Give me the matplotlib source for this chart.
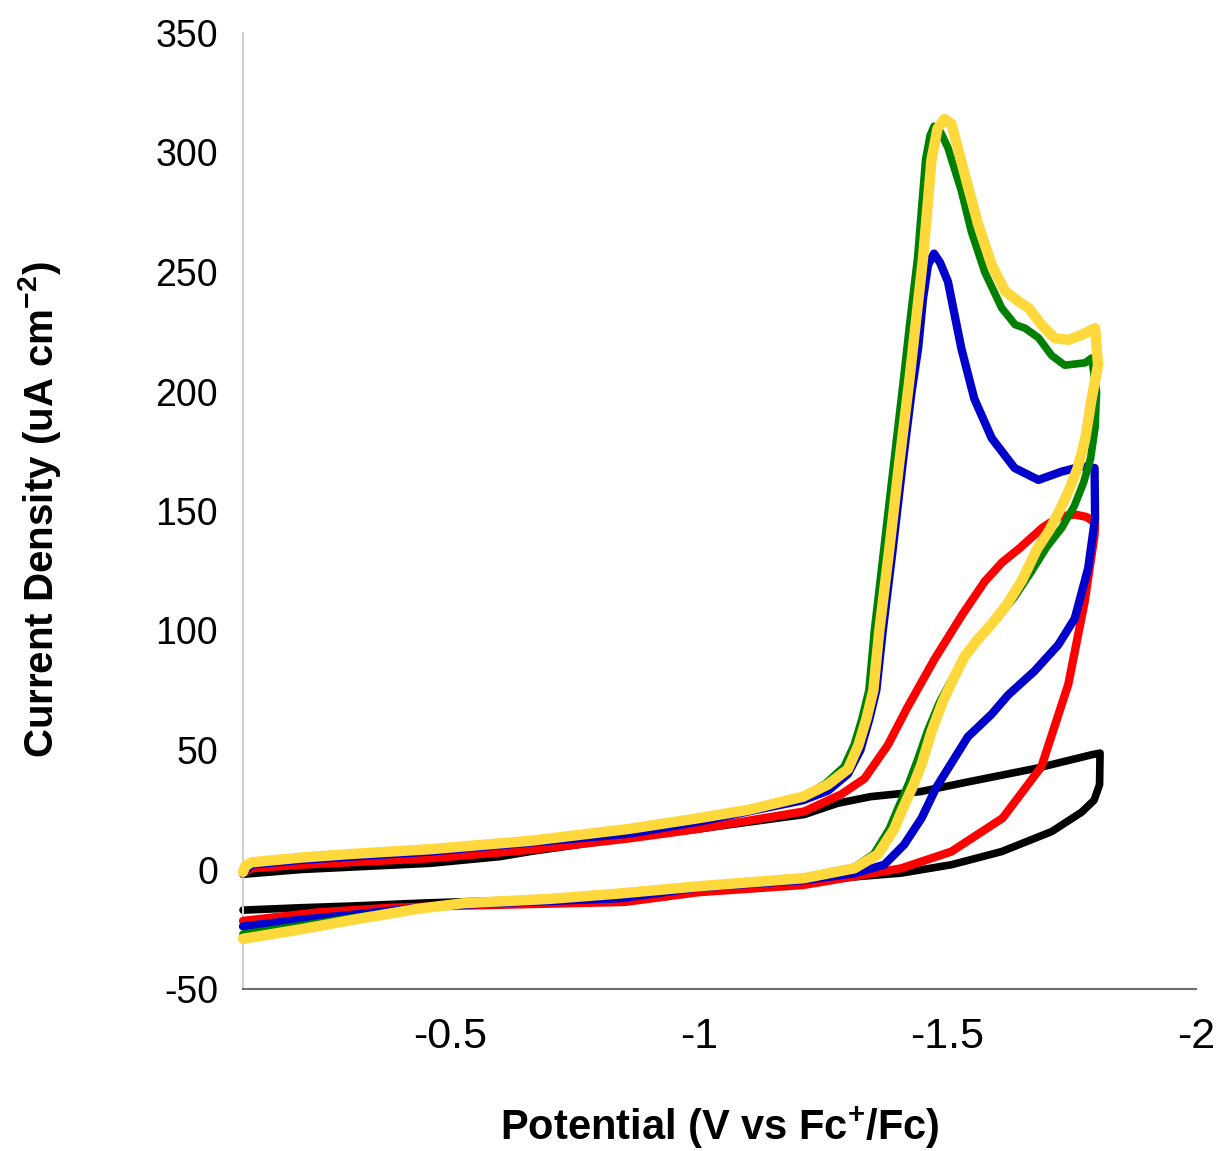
import matplotlib
matplotlib.use('Agg')
import matplotlib.pyplot as plt

# cyclic voltammograms: potential (V vs Fc+/Fc) and current density (uA cm-2)
# each list runs the forward sweep to -1.8 V and then back
black_v = [-0.083, -0.2, -0.46, -0.6, -0.66, -0.8, -0.843, -1.0, -1.212, -1.279, -1.346,
           -1.446, -1.545, -1.68, -1.79, -1.807,
           -1.806, -1.795, -1.77, -1.71, -1.609, -1.508, -1.407, -1.2, -1.0, -0.843, -0.6,
           -0.45, -0.3, -0.2, -0.083]
black_i = [-2, 0, 2.6, 5.4, 7.5, 11.7, 13, 17, 23, 27.7, 30.5,
           32.6, 36.8, 42.4, 48, 48.7,
           35.5, 29, 24, 15.9, 7.5, 2, -1.5, -5, -8.5, -11, -13,
           -14, -15.3, -16, -17]

red_v = [-0.083, -0.1, -0.2, -0.46, -0.66, -0.86, -1.0, -1.212, -1.286, -1.333, -1.38,
         -1.42, -1.474, -1.53, -1.575, -1.61, -1.645, -1.69, -1.725, -1.757, -1.78, -1.797,
         -1.796, -1.776, -1.743, -1.689, -1.611, -1.508, -1.407, -1.313, -1.21, -1.0,
         -0.85, -0.49, -0.38, -0.23, -0.083]
red_i = [-1.5, 0.5, 2, 4.7, 8.2, 13, 17, 24.3, 31.4, 38, 52,
         68, 88, 106.7, 120.5, 128.5, 134.4, 142.8, 147.7, 148.5, 147.5, 145,
         140, 112, 77.4, 43, 21.5, 7.5, 0.5, -2.9, -6.5, -9.5,
         -13.6, -15.3, -16, -18, -21.5]

blue_v = [-0.083, -0.1, -0.2, -0.46, -0.86, -1.0, -1.21, -1.26, -1.30, -1.325, -1.343,
          -1.357, -1.37, -1.39, -1.41, -1.428, -1.441, -1.451, -1.461, -1.473,
          -1.485, -1.501, -1.528, -1.554, -1.589, -1.635, -1.683, -1.73, -1.77, -1.796,
          -1.797, -1.783, -1.756, -1.723, -1.675, -1.622, -1.589, -1.541, -1.478,
          -1.448, -1.413, -1.373, -1.313, -1.21, -1.0, -0.843, -0.6, -0.46, -0.3,
          -0.2, -0.083]
blue_i = [-1.5, 2, 4, 7.5, 15, 20, 29, 33, 40, 50, 63,
          75, 100, 134, 170, 200, 218, 239, 253, 257.7,
          254, 246, 218, 197, 180.5, 168, 163, 166.5, 168.6, 168,
          147, 126, 105, 94, 83, 73, 65, 55.5, 34.5,
          21.5, 10.4, 2, -1.6, -4.5, -7.5, -12, -14, -15.5, -19,
          -21, -23.8]

green_v = [-0.083, -0.088, -0.1, -0.2, -0.3, -0.46, -0.66, -0.86, -1.0, -1.1, -1.21,
           -1.255, -1.292, -1.312, -1.328, -1.342, -1.353, -1.372, -1.392, -1.411,
           -1.425, -1.44, -1.456, -1.465, -1.473, -1.485, -1.501, -1.528, -1.548, -1.575,
           -1.609, -1.636, -1.656, -1.683, -1.71, -1.736, -1.777, -1.79,
           -1.8, -1.797, -1.788, -1.774, -1.755, -1.73, -1.7, -1.67, -1.635, -1.6,
           -1.565, -1.535, -1.51, -1.484, -1.46, -1.44, -1.422, -1.397, -1.383,
           -1.352, -1.313, -1.212, -1.0, -0.843, -0.7, -0.527, -0.433, -0.3, -0.2,
           -0.083]
green_i = [-1, 1.5, 3, 5, 6.5, 8.5, 12, 17, 21.5, 25, 30.5,
           36, 43, 52, 63, 75, 100, 134, 170, 204,
           230, 256, 297, 307, 311, 309, 302, 284, 267, 250,
           235, 228, 226.5, 222.5, 215, 211, 212, 214,
           200, 185, 172, 162, 152, 143, 135, 125, 114, 105,
           97, 89, 80, 70, 58, 46, 36, 24, 17,
           6.5, 1, -3.3, -7, -10.2, -12.5, -14.3, -16.5, -20.3, -23.5,
           -27]

yellow_v = [-0.083, -0.088, -0.1, -0.2, -0.3, -0.46, -0.66, -0.86, -1.0, -1.1, -1.21,
            -1.26, -1.3, -1.321, -1.337, -1.351, -1.363, -1.383, -1.403, -1.423,
            -1.437, -1.451, -1.468, -1.48, -1.494, -1.508, -1.535, -1.562, -1.589,
            -1.616, -1.643, -1.663, -1.689, -1.716, -1.743, -1.77, -1.797,
            -1.803, -1.79, -1.777, -1.762, -1.743, -1.725, -1.705, -1.68, -1.65,
            -1.62, -1.59, -1.56, -1.534, -1.51, -1.49, -1.468, -1.448, -1.433,
            -1.407, -1.393, -1.36, -1.313, -1.212, -1.0, -0.843, -0.7, -0.527,
            -0.433, -0.3, -0.2, -0.083]
yellow_i = [-1, 1.5, 3, 5, 6.5, 8.5, 12, 17, 21.5, 25, 30.5,
            35.6, 42, 52, 63, 75, 100, 134, 170, 204,
            230, 256, 297, 310, 314, 312, 290.7, 269.8, 253,
            242, 237.7, 235, 228, 222.3, 221.6, 223.7, 226.5,
            211, 197, 180, 168, 158, 150, 142, 134, 121,
            111, 103, 96, 89, 79, 70, 57.7, 44, 36,
            24, 17, 6.3, 0.5, -3.6, -7, -10, -12.3, -14.1,
            -16.5, -21.2, -25, -29]

x_ticks = [-0.5, -1, -1.5, -2]
x_labels = ['-0.5', '-1', '-1.5', '-2']
y_ticks = [-50, 0, 50, 100, 150, 200, 250, 300, 350]

plt.rcParams['font.family'] = ['Liberation Sans', 'DejaVu Sans']
plt.rcParams['mathtext.default'] = 'regular'
plt.rcParams['axes.unicode_minus'] = False

fig = plt.figure(figsize=(12.21, 11.51), dpi=100)
ax = fig.add_axes([243 / 1221, 1 - 989 / 1151, (1196 - 243) / 1221, (989 - 33) / 1151])

style = dict(solid_joinstyle='round', solid_capstyle='round', clip_on=False)
ax.plot(black_v, black_i, color='black', lw=5.5, zorder=2, **style)
ax.plot(red_v, red_i, color='#FF0000', lw=6, zorder=3, **style)
ax.plot(blue_v, blue_i, color='#0000CC', lw=6, zorder=4, **style)
ax.plot(green_v, green_i, color='#008000', lw=5.5, zorder=5, **style)
ax.plot(yellow_v, yellow_i, color='#FFD83C', lw=7.5, zorder=6, **style)

ax.set_xlim(-0.083, -2.0)
ax.set_ylim(-50, 350)
ax.set_xticks(x_ticks)
ax.set_xticklabels(x_labels)
ax.set_yticks(y_ticks)
ax.tick_params(axis='x', length=0, pad=20, labelsize=31)
ax.tick_params(axis='y', length=0, pad=18, labelsize=27)

for side in ['top', 'right']:
    ax.spines[side].set_visible(False)
ax.spines['left'].set_color('#D0D0D0')
ax.spines['left'].set_linewidth(1.5)
ax.spines['bottom'].set_color('#6E6E6E')
ax.spines['bottom'].set_linewidth(1.5)

fig.text(720 / 1221, 1 - 1128 / 1151, r'Potential (V vs Fc$^{+}$/Fc)',
         ha='center', va='center', fontsize=30, fontweight='bold')
fig.text(40 / 1221, 1 - 510 / 1151, r'Current Density (uA cm$^{-2}$)',
         ha='center', va='center', rotation=90, fontsize=29, fontweight='bold')

fig.savefig('out.png', dpi=100)
